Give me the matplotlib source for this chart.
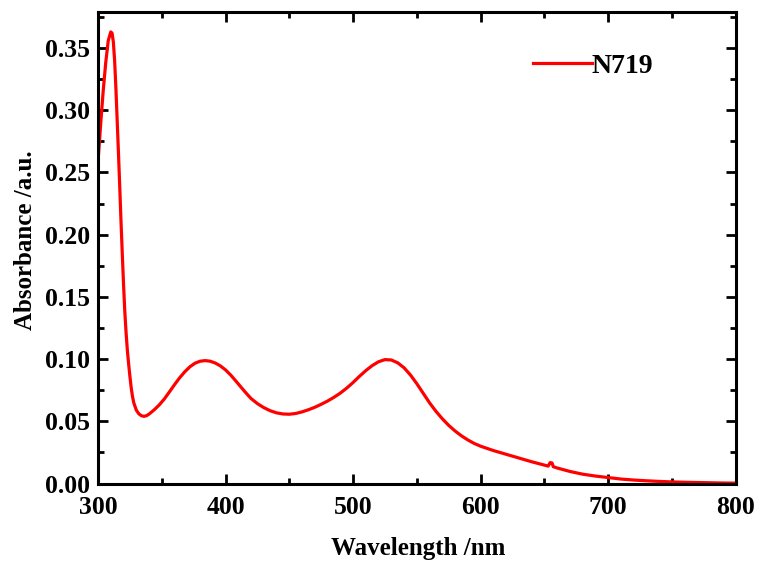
import matplotlib
matplotlib.use("Agg")
import matplotlib.pyplot as plt
from matplotlib.ticker import MultipleLocator

wavelength = [300, 302, 304, 306, 308, 310, 311, 312, 313, 314, 315, 316, 317, 318,
              319, 320, 321, 322, 323, 324, 325, 326, 327, 328, 330, 332, 334, 336,
              338, 340, 344, 348, 352, 356, 360, 364, 368, 372, 376, 380, 384, 388,
              392, 396, 400, 404, 408, 412, 416, 420, 425, 430, 435, 440, 445, 450,
              455, 460, 465, 470, 475, 480, 485, 490, 495, 500, 505, 510, 515, 520,
              525, 530, 535, 540, 545, 550, 555, 560, 565, 570, 575, 580, 585, 590,
              595, 600, 610, 620, 630, 640, 650, 653, 654.5, 656, 657, 660, 670, 680,
              690, 700, 710, 720, 730, 740, 750, 760, 770, 780, 790, 800]
absorbance = [0.259, 0.288, 0.315, 0.338, 0.356, 0.363, 0.362, 0.355, 0.340, 0.318,
              0.292, 0.266, 0.239, 0.211, 0.185, 0.160, 0.138, 0.121, 0.107, 0.096,
              0.086, 0.077, 0.070, 0.065, 0.059, 0.056, 0.0545, 0.054, 0.0545, 0.0558,
              0.0592, 0.0632, 0.068, 0.0737, 0.0795, 0.085, 0.0898, 0.0938, 0.0967, 0.0983,
              0.0988, 0.0983, 0.0968, 0.0945, 0.0913, 0.0872, 0.0825, 0.0776, 0.0728, 0.0683,
              0.0642, 0.0610, 0.0585, 0.0568, 0.0559, 0.0557, 0.0563, 0.0576, 0.0593, 0.0613,
              0.0637, 0.0663, 0.0693, 0.0727, 0.0767, 0.0812, 0.0862, 0.0908, 0.0948, 0.0979,
              0.0996, 0.0993, 0.0970, 0.0930, 0.0872, 0.0802, 0.0725, 0.0648, 0.0580, 0.0520,
              0.0467, 0.0422, 0.0383, 0.0350, 0.0322, 0.0300, 0.0265, 0.0235, 0.0205, 0.0175,
              0.0148, 0.0140, 0.0168, 0.0165, 0.0135, 0.0125, 0.0097, 0.0075, 0.0060,
              0.0048, 0.0036, 0.0028, 0.0022, 0.0017, 0.0013, 0.0010, 0.0008, 0.0006,
              0.0004, 0.0003]

x_ticks = [300, 400, 500, 600, 700, 800]
y_ticks = [0.00, 0.05, 0.10, 0.15, 0.20, 0.25, 0.30, 0.35]

plt.rcParams['font.family'] = ['Liberation Serif', 'DejaVu Serif']
plt.rcParams['font.weight'] = 'bold'

fig = plt.figure(figsize=(7.6, 5.64), dpi=100)
ax = fig.add_axes([0.129, 0.1427, 0.839, 0.836])

ax.plot(wavelength, absorbance, color='#ff0000', lw=2.3, label='N719',
        solid_joinstyle='round')

ax.set_xlim(300, 800)
ax.set_ylim(0, 0.379)
ax.set_xticks(x_ticks)
ax.set_yticks(y_ticks)
ax.set_yticklabels([f"{v:.2f}" for v in y_ticks])
ax.xaxis.set_minor_locator(MultipleLocator(50))
ax.yaxis.set_minor_locator(MultipleLocator(0.025))

for s in ax.spines.values():
    s.set_linewidth(2.2)
ax.tick_params(which='both', direction='in', top=True, right=True, width=2.0)
ax.tick_params(which='major', length=7, labelsize=18.5)
ax.tick_params(axis='x', which='major', pad=9)
ax.tick_params(axis='y', which='major', pad=6)
ax.tick_params(which='minor', length=4)
for lab in ax.get_xticklabels() + ax.get_yticklabels():
    lab.set_fontweight('bold')

ax.set_xlabel('Wavelength /nm', fontsize=18, fontweight='bold')
ax.set_ylabel('Absorbance /a.u.', fontsize=18, fontweight='bold')
ax.xaxis.set_label_coords(0.502, -0.114)
ax.yaxis.set_label_coords(-0.095, 0.516)

leg = ax.legend(loc='upper right', bbox_to_anchor=(0.888, 0.935), frameon=False,
                prop={'size': 20, 'weight': 'bold'}, handlelength=2.1,
                handletextpad=0.0, borderaxespad=0)

fig.savefig('out.png', dpi=100)
